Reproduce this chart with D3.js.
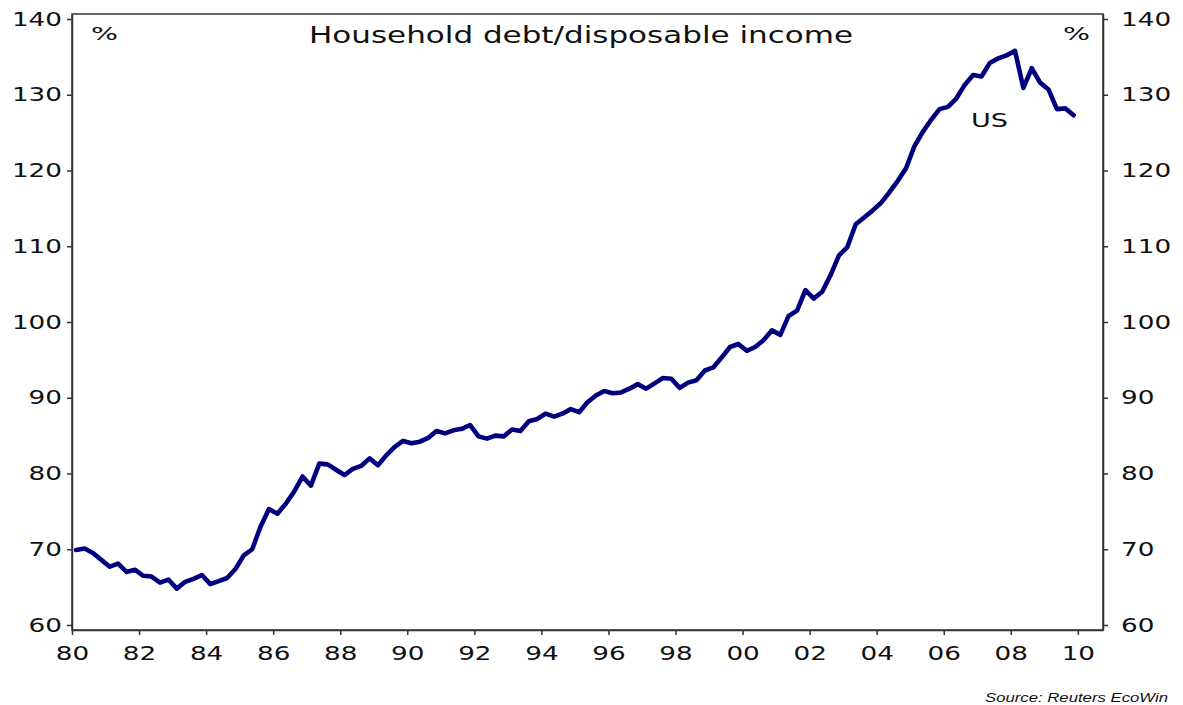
<!DOCTYPE html>
<html>
<head>
<meta charset="utf-8">
<script src="https://cdn.jsdelivr.net/npm/d3@7"></script>
<style>
  body { margin: 0; background: #fff; }
  svg { display: block; }
</style>
</head>
<body>
<div id="chart"></div>
<script>
// quarterly US household debt / disposable income, %, 1980Q1 .. 2009Q4
var firstYear = 1980;
var debtRatio = [
    69.9, 70.1, 69.5, 68.6,   67.7, 68.1, 67.0, 67.3,   66.5, 66.4, 65.6, 66.0,     // 80-82
    64.8, 65.7, 66.1, 66.6,   65.4, 65.8, 66.2, 67.4,   69.2, 70.0, 73.0, 75.3,     // 83-85
    74.7, 76.0, 77.6, 79.6,   78.4, 81.3, 81.2, 80.5,   79.8, 80.6, 81.0, 82.0,     // 86-88
    81.1, 82.4, 83.5, 84.3,   84.0, 84.2, 84.7, 85.6,   85.3, 85.7, 85.9, 86.4,     // 89-91
    84.9, 84.6, 85.0, 84.9,   85.8, 85.6, 86.9, 87.2,   87.9, 87.5, 87.9, 88.5,     // 92-94
    88.1, 89.4, 90.3, 90.9,   90.6, 90.7, 91.2, 91.8,   91.2, 91.9, 92.6, 92.5,     // 95-97
    91.3, 92.0, 92.3, 93.6,   94.0, 95.3, 96.7, 97.1,   96.2, 96.7, 97.6, 98.9,     // 98-00
    98.3, 100.8, 101.5, 104.2, 103.1, 104.0, 106.2, 108.8, 109.9, 112.9, 113.8, 114.7, // 01-03
    115.7, 117.1, 118.6, 120.3, 123.2, 125.1, 126.7, 128.1, 128.4, 129.5, 131.3, 132.6, // 04-06
    132.4, 134.2, 134.8, 135.2, 135.8, 130.9, 133.5, 131.6, 130.7, 128.1, 128.2, 127.3  // 07-09
];
var yearTicks = [1980, 1982, 1984, 1986, 1988, 1990, 1992, 1994, 1996, 1998,
                 2000, 2002, 2004, 2006, 2008, 2010];
var pctTicks = [60, 70, 80, 90, 100, 110, 120, 130, 140];

var title = "Household debt/disposable income",
    seriesName = "US",
    unitLabel = "%",
    sourceNote = "Source: Reuters EcoWin";

var W = 1183, H = 705,
    plotL = 72, plotR = 1103, plotT = 14, plotB = 630,
    charW = 16.7;                               // stretched glyph width of the original

var svg = d3.select("#chart").append("svg")
    .attr("width", W)
    .attr("height", H);

var x = d3.scaleLinear().domain([1980, 2010.75]).range([plotL, plotR]);
var y = d3.scaleLinear().domain([59.34, 140.66]).range([plotB, plotT]);

var points = debtRatio.map((v, i) => ({ t: firstYear + (i + 0.5) / 4, v: v }));

// frame
svg.append("rect")
    .attr("x", plotL).attr("y", plotT)
    .attr("width", plotR - plotL).attr("height", plotB - plotT)
    .attr("fill", "none")
    .attr("stroke", "#333")
    .attr("stroke-width", 1.5);

function styleAxis(g) {
    g.select(".domain").attr("stroke", "#333").attr("stroke-width", 1.5);
    g.selectAll(".tick line").attr("stroke", "#333").attr("stroke-width", 1.5);
    g.selectAll("text")
        .attr("font-family", "DejaVu Sans, Verdana, sans-serif")
        .attr("font-size", 19)
        .attr("fill", "#111")
        .attr("textLength", function() { return this.textContent.length * charW; })
        .attr("lengthAdjust", "spacingAndGlyphs");
}

svg.append("g")
    .attr("transform", "translate(0," + plotB + ")")
    .call(d3.axisBottom(x).tickValues(yearTicks)
        .tickFormat(d => String(d % 100).padStart(2, "0"))
        .tickSize(5).tickSizeOuter(0).tickPadding(12))
    .call(styleAxis);

svg.append("g")
    .attr("transform", "translate(" + plotL + ",0)")
    .call(d3.axisLeft(y).tickValues(pctTicks).tickSize(5).tickSizeOuter(0).tickPadding(5))
    .call(styleAxis);

svg.append("g")
    .attr("transform", "translate(" + plotR + ",0)")
    .call(d3.axisRight(y).tickValues(pctTicks).tickSize(5).tickSizeOuter(0).tickPadding(13))
    .call(styleAxis);

// the series
var line = d3.line()
    .x(d => x(d.t))
    .y(d => y(d.v));

svg.append("path")
    .datum(points)
    .attr("d", line)
    .attr("fill", "none")
    .attr("stroke", "#00007f")
    .attr("stroke-width", 4.6)
    .attr("stroke-linejoin", "round")
    .attr("stroke-linecap", "round");

// texts
function label(txt, px, py, size, width, anchor) {
    return svg.append("text")
        .attr("x", px).attr("y", py)
        .attr("text-anchor", anchor || "start")
        .attr("font-family", "DejaVu Sans, Verdana, sans-serif")
        .attr("font-size", size)
        .attr("fill", "#111")
        .attr("textLength", width)
        .attr("lengthAdjust", "spacingAndGlyphs")
        .text(txt);
}

label(title, 309, 43, 23, 544);
label(unitLabel, 91, 40, 18, 27);
label(unitLabel, 1063, 40, 18, 27);
label(seriesName, 971, 127, 20, 37);

label(sourceNote, 1168, 702, 13, 183, "end")
    .attr("font-family", "Liberation Sans, Arial, sans-serif")
    .attr("font-style", "italic");
</script>
</body>
</html>
